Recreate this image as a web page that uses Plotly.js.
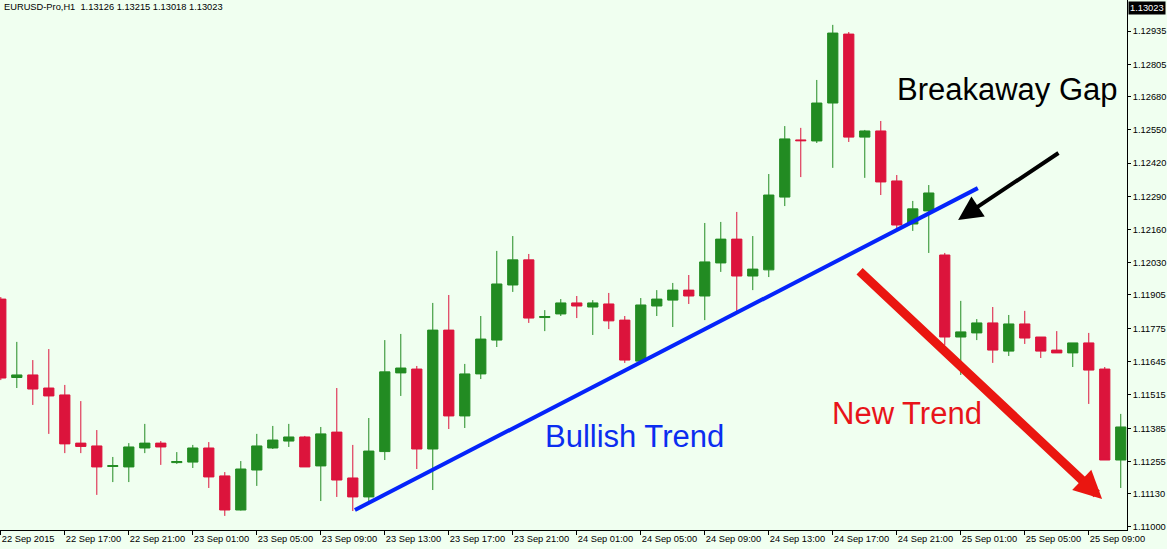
<!DOCTYPE html>
<html>
<head>
<meta charset="utf-8">
<script src="https://cdn.plot.ly/plotly-3.0.1.min.js"></script>
<style>
html,body{margin:0;padding:0;background:#F0FFF0;}
#chart{width:1167px;height:549px;}
</style>
</head>
<body>
<div id="chart"></div>
<script>
// Hourly bars, EURUSD H1
const times = [
'2015-09-22 13:00','2015-09-22 14:00','2015-09-22 15:00','2015-09-22 16:00','2015-09-22 17:00','2015-09-22 18:00','2015-09-22 19:00','2015-09-22 20:00','2015-09-22 21:00','2015-09-22 22:00','2015-09-22 23:00',
'2015-09-23 00:00','2015-09-23 01:00','2015-09-23 02:00','2015-09-23 03:00','2015-09-23 04:00','2015-09-23 05:00','2015-09-23 06:00','2015-09-23 07:00','2015-09-23 08:00','2015-09-23 09:00','2015-09-23 10:00','2015-09-23 11:00',
'2015-09-23 12:00','2015-09-23 13:00','2015-09-23 14:00','2015-09-23 15:00','2015-09-23 16:00','2015-09-23 17:00','2015-09-23 18:00','2015-09-23 19:00','2015-09-23 20:00','2015-09-23 21:00','2015-09-23 22:00','2015-09-23 23:00',
'2015-09-24 00:00','2015-09-24 01:00','2015-09-24 02:00','2015-09-24 03:00','2015-09-24 04:00','2015-09-24 05:00','2015-09-24 06:00','2015-09-24 07:00','2015-09-24 08:00','2015-09-24 09:00','2015-09-24 10:00','2015-09-24 11:00',
'2015-09-24 12:00','2015-09-24 13:00','2015-09-24 14:00','2015-09-24 15:00','2015-09-24 16:00','2015-09-24 17:00','2015-09-24 18:00','2015-09-24 19:00','2015-09-24 20:00','2015-09-24 21:00','2015-09-24 22:00','2015-09-24 23:00',
'2015-09-25 00:00','2015-09-25 01:00','2015-09-25 02:00','2015-09-25 03:00','2015-09-25 04:00','2015-09-25 05:00','2015-09-25 06:00','2015-09-25 07:00','2015-09-25 08:00','2015-09-25 09:00','2015-09-25 10:00','2015-09-25 11:00'
];

const openP = [
1.11889,1.11583,1.11593,1.11542,1.11515,1.11327,1.11316,1.11236,1.11234,1.11308,
1.11327,1.11251,1.11253,1.11308,1.11199,1.11066,1.11222,1.11308,1.11335,1.11351,
1.11238,1.11370,1.11191,1.11117,1.11294,1.11601,1.11616,1.11304,1.11768,1.11433,
1.11597,1.11729,1.11944,1.12042,1.11817,1.11831,1.11874,1.11858,1.11870,1.11807,
1.11647,1.11862,1.11885,1.11924,1.11901,1.12030,1.12123,1.11979,1.12003,1.12287,
1.12510,1.12506,1.12654,1.12923,1.12521,1.12545,1.12350,1.12182,1.12233,1.12061,
1.11741,1.11757,1.11796,1.11686,1.11792,1.11741,1.11690,1.11679,1.11718,1.11616,
1.11261];

const highP = [
1.11897,1.11722,1.11651,1.11694,1.11554,1.11491,1.11378,1.11273,1.11327,1.11402,
1.11335,1.11292,1.11320,1.11331,1.11214,1.11257,1.11363,1.11394,1.11402,1.11355,
1.11390,1.11542,1.11320,1.11425,1.11729,1.11753,1.11628,1.11874,1.11905,1.11636,
1.11823,1.12077,1.12135,1.12065,1.11846,1.11889,1.11901,1.11885,1.11913,1.11823,
1.11893,1.11924,1.11952,1.11983,1.12186,1.12190,1.12229,1.12135,1.12377,1.12564,
1.12557,1.12744,1.12959,1.12931,1.12549,1.12584,1.12373,1.12272,1.12334,1.12069,
1.11882,1.11811,1.11858,1.11827,1.11843,1.11741,1.11764,1.11718,1.11757,1.11624,
1.11441];

const lowP = [
1.11573,1.11542,1.11476,1.11363,1.11288,1.11288,1.11125,1.11175,1.11175,1.11288,
1.11242,1.11246,1.11230,1.11152,1.11043,1.11064,1.11160,1.11304,1.11312,1.11234,
1.11101,1.11117,1.11062,1.11101,1.11261,1.11511,1.11226,1.11144,1.11382,1.11386,
1.11577,1.11702,1.11917,1.11796,1.11764,1.11823,1.11815,1.11749,1.11772,1.11640,
1.11645,1.11823,1.11780,1.11870,1.11807,1.11995,1.11835,1.11924,1.11975,1.12252,
1.12365,1.12498,1.12401,1.12502,1.12362,1.12295,1.12159,1.12155,1.12069,1.11710,
1.11593,1.11729,1.11640,1.11667,1.11714,1.11659,1.11679,1.11624,1.11480,1.11261,
1.11152];

const closeP = [
1.11581,1.11593,1.11538,1.11511,1.11324,1.11314,1.11234,1.11239,1.11312,1.11327,
1.11312,1.11255,1.11308,1.11195,1.11066,1.11226,1.11316,1.11339,1.11351,1.11234,
1.11363,1.11183,1.11117,1.11296,1.11605,1.11620,1.11304,1.11768,1.11433,1.11597,
1.11733,1.11948,1.12042,1.11815,1.11821,1.11874,1.11862,1.11874,1.11804,1.11651,
1.11866,1.11889,1.11924,1.11901,1.12034,1.12123,1.11979,1.12006,1.12295,1.12514,
1.12507,1.12654,1.12927,1.12521,1.12545,1.12346,1.12178,1.12241,1.12303,1.11741,
1.11761,1.11796,1.11690,1.11792,1.11737,1.11686,1.11679,1.11718,1.11612,1.11261,
1.11390];

const xTickTimes = ['2015-09-22 13:00','2015-09-22 17:00','2015-09-22 21:00','2015-09-23 01:00','2015-09-23 05:00','2015-09-23 09:00','2015-09-23 13:00','2015-09-23 17:00','2015-09-23 21:00','2015-09-24 01:00','2015-09-24 05:00','2015-09-24 09:00','2015-09-24 13:00','2015-09-24 17:00','2015-09-24 21:00','2015-09-25 01:00','2015-09-25 05:00','2015-09-25 09:00'];
const xTickLabels = ['22 Sep 2015','22 Sep 17:00','22 Sep 21:00','23 Sep 01:00','23 Sep 05:00','23 Sep 09:00','23 Sep 13:00','23 Sep 17:00','23 Sep 21:00','24 Sep 01:00','24 Sep 05:00','24 Sep 09:00','24 Sep 13:00','24 Sep 17:00','24 Sep 21:00','25 Sep 01:00','25 Sep 05:00','25 Sep 09:00'];
const priceTicks = [1.11000,1.11130,1.11255,1.11385,1.11515,1.11645,1.11775,1.11905,1.12030,1.12160,1.12290,1.12420,1.12550,1.12680,1.12805,1.12935];

const headerText = 'EURUSD-Pro,H1  1.13126 1.13215 1.13018 1.13023';
const bidPrice = 1.13023;

const GREEN = '#228B22', RED = '#DC143C', BG = '#F0FFF0';
const FONT = 'Liberation Sans, Arial, sans-serif';

const trace = {
  type: 'candlestick',
  x: times, open: openP, high: highP, low: lowP, close: closeP,
  increasing: {line: {color: GREEN, width: 1}, fillcolor: GREEN},
  decreasing: {line: {color: RED, width: 1}, fillcolor: RED},
  whiskerwidth: 0,
  hoverinfo: 'skip',
  showlegend: false
};

const layout = {
  width: 1167, height: 549,
  margin: {l: 0, r: 40, t: 0, b: 19, pad: 0},
  paper_bgcolor: BG, plot_bgcolor: BG,
  boxgap: 0.36, boxgroupgap: 0,
  showlegend: false,
  font: {family: FONT, size: 9.3, color: '#000'},
  xaxis: {
    type: 'date',
    range: ['2015-09-22 12:57', '2015-09-25 11:23:24'],
    rangeslider: {visible: false},
    tickmode: 'array', tickvals: xTickTimes, ticktext: xTickLabels,
    tickangle: 0,
    ticks: 'outside', ticklen: 4, tickcolor: '#000', tickwidth: 1,
    ticklabelposition: 'outside right',
    showline: true, linecolor: '#000', linewidth: 1,
    showgrid: false, zeroline: false, automargin: false,
    tickfont: {family: FONT, size: 9.3, color: '#000'}
  },
  yaxis: {
    side: 'right',
    range: [1.10988, 1.13056],
    tickmode: 'array', tickvals: priceTicks, tickformat: '.5f',
    ticks: 'outside', ticklen: 3, tickcolor: '#000', tickwidth: 1,
    showline: true, linecolor: '#000', linewidth: 1,
    showgrid: false, zeroline: false, automargin: false,
    tickfont: {family: FONT, size: 9.3, color: '#000'}
  },
  shapes: [
    {type: 'line', xref: 'x', yref: 'y',
     x0: '2015-09-23 11:08', y0: 1.11066, x1: '2015-09-25 02:04', y1: 1.12322,
     line: {color: '#0524FA', width: 4}}
  ],
  annotations: [
    {xref: 'paper', yref: 'paper', x: 0, y: 1, xanchor: 'left', yanchor: 'top', xshift: 2,
     text: headerText, showarrow: false, font: {family: FONT, size: 9.3, color: '#000'}},
    {xref: 'paper', yref: 'y', x: 1, y: bidPrice, xanchor: 'left', yanchor: 'middle', xshift: 1,
     text: bidPrice.toFixed(5), showarrow: false, bgcolor: '#000', borderpad: 1,
     font: {family: FONT, size: 9.3, color: '#FFF'}},
    {xref: 'x', yref: 'y', x: '2015-09-25 03:55', y: 1.12705, text: 'Breakaway Gap',
     showarrow: false, xanchor: 'center', yanchor: 'middle',
     font: {family: FONT, size: 31, color: '#000'}},
    {xref: 'x', yref: 'y', x: '2015-09-24 04:38', y: 1.11351, text: 'Bullish Trend',
     showarrow: false, xanchor: 'center', yanchor: 'middle',
     font: {family: FONT, size: 31, color: '#0B2DF0'}},
    {xref: 'x', yref: 'y', x: '2015-09-24 21:38', y: 1.11441, text: 'New Trend',
     showarrow: false, xanchor: 'center', yanchor: 'middle',
     font: {family: FONT, size: 31, color: '#E8141A'}},
    {xref: 'x', yref: 'y', axref: 'x', ayref: 'y',
     x: '2015-09-25 00:50', y: 1.12198, ax: '2015-09-25 07:12', ay: 1.12463,
     text: '', showarrow: true, arrowhead: 2, arrowsize: 1.2, arrowwidth: 4, arrowcolor: '#000', standoff: 0},
    {xref: 'x', yref: 'y', axref: 'x', ayref: 'y',
     x: '2015-09-25 09:50', y: 1.11109, ax: '2015-09-24 18:35', ay: 1.12003,
     text: '', showarrow: true, arrowhead: 2, arrowsize: 0.62, arrowwidth: 9, arrowcolor: '#EA1610', standoff: 0}
  ]
};

Plotly.newPlot('chart', [trace], layout, {displayModeBar: false, staticPlot: true});
</script>
</body>
</html>
